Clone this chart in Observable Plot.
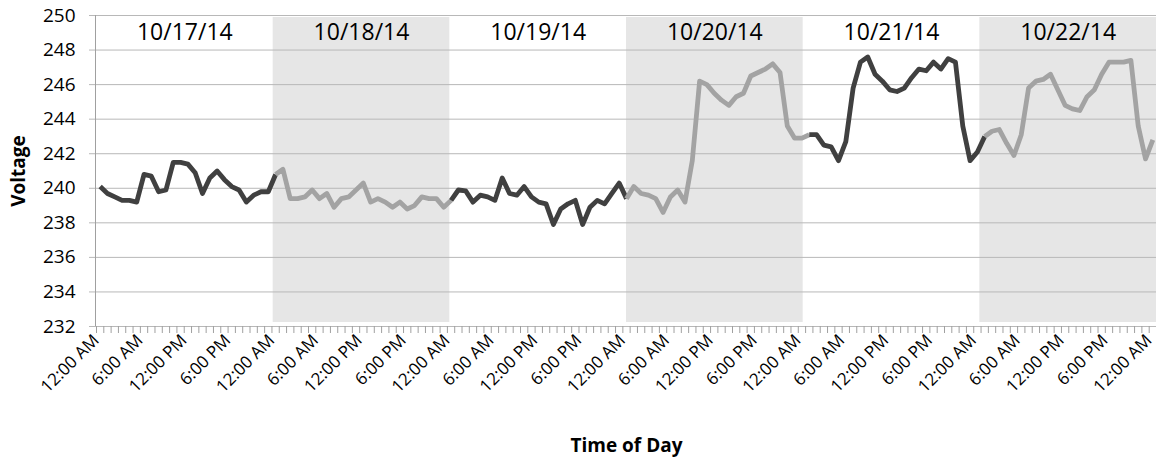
<!DOCTYPE html>
<html><head><meta charset="utf-8">
<script src="https://cdn.jsdelivr.net/npm/d3@7"></script>
<script src="https://cdn.jsdelivr.net/npm/@observablehq/plot@0.6"></script>
<style>body{margin:0;background:#fff;}</style>
</head><body><div id="chart"></div>
<script>
const days = ["10/17/14","10/18/14","10/19/14","10/20/14","10/21/14","10/22/14"];
// hourly readings, 12:00 AM .. 11:00 PM of each day
const day1 = [240.1, 239.7, 239.5, 239.3, 239.3, 239.2, 240.8, 240.7, 239.8, 239.9, 241.5, 241.5, 241.4, 240.9, 239.7, 240.6, 241.0, 240.5, 240.1, 239.9, 239.2, 239.6, 239.8, 239.8];
const day2 = [240.8, 241.1, 239.4, 239.4, 239.5, 239.9, 239.4, 239.7, 238.9, 239.4, 239.5, 239.9, 240.3, 239.2, 239.4, 239.2, 238.9, 239.2, 238.8, 239.0, 239.5, 239.4, 239.4, 238.9];
const day3 = [239.3, 239.9, 239.85, 239.2, 239.6, 239.5, 239.3, 240.6, 239.7, 239.6, 240.1, 239.5, 239.2, 239.1, 237.9, 238.8, 239.1, 239.3, 237.9, 238.9, 239.3, 239.1, 239.7, 240.3];
const day4 = [239.4, 240.1, 239.7, 239.6, 239.4, 238.6, 239.5, 239.9, 239.2, 241.6, 246.2, 246.0, 245.5, 245.1, 244.8, 245.3, 245.5, 246.5, 246.7, 246.9, 247.2, 246.7, 243.6, 242.9];
const day5 = [242.9, 243.1, 243.1, 242.5, 242.4, 241.6, 242.7, 245.8, 247.3, 247.6, 246.6, 246.2, 245.7, 245.6, 245.8, 246.4, 246.9, 246.8, 247.3, 246.9, 247.5, 247.3, 243.6, 241.6];
const day6 = [242.1, 243.0, 243.3, 243.4, 242.6, 241.9, 243.1, 245.8, 246.2, 246.3, 246.6, 245.7, 244.8, 244.6, 244.5, 245.3, 245.7, 246.6, 247.3, 247.3, 247.3, 247.4, 243.6, 241.7];
const lastReading = [242.8]; // 12:00 AM 10/23/14
const yTicks = [232, 234, 236, 238, 240, 242, 244, 246, 248, 250];
const timeLabels = ["12:00 AM", "6:00 AM", "12:00 PM", "6:00 PM"];

const readings = [...day1, ...day2, ...day3, ...day4, ...day5, ...day6, ...lastReading];
const N = readings.length;            // categories on the axis
const nDays = days.length;
const bandOf = i => Math.min(nDays - 1, Math.floor((i + 0.5) * nDays / N)); // shading column a reading falls in
const lineRows = [];
readings.forEach((v, i) => {
  const b = bandOf(i);
  lineRows.push({x: i + 0.5, v, band: b});
  if (i > 0 && bandOf(i - 1) !== b) lineRows.push({x: i + 0.5, v, band: bandOf(i - 1)});
});
const shaded = days.map((name, d) => ({name, d})).filter(o => o.d % 2 === 1);
const hourTicks = d3.range(0, N + 1);
const labelIdx = d3.range(0, N, 6);

const dark = "#404040", light = "#a3a3a3", shade = "#e6e6e6", grid = "#b8b8b8";
const yMin = yTicks[0], yMax = yTicks[yTicks.length - 1];
const colW = N / nDays;

const chart = Plot.plot({
  width: 1156,
  height: 459,
  marginLeft: 96,
  marginRight: 0,
  marginTop: 15,
  marginBottom: 133,
  style: {fontFamily: "'Open Sans', sans-serif", fontSize: "19px", color: "#000", background: "#fff"},
  x: {domain: [0, N]},
  y: {domain: [yMin, yMax]},
  marks: [
    Plot.rectY(shaded, {x1: o => o.d * colW, x2: o => (o.d + 1) * colW, y1: yMin, y2: yMax, fill: shade, insetTop: 2, insetBottom: 4}),
    Plot.gridY(yTicks, {stroke: grid, strokeOpacity: 1}),
    Plot.axisY(yTicks, {tickSize: 7, tickPadding: 14, fontSize: 19, stroke: grid, fill: "#000", label: null}),
    Plot.ruleX([0], {stroke: "#a0a0a0", dx: -1}),
    Plot.axisX(hourTicks, {tickSize: 7, tickFormat: () => "", stroke: "#a0a0a0", label: null}),
    Plot.axisX(labelIdx.map(i => i + 0.5), {tickSize: 0, tickPadding: 11, tickRotate: -45, fontSize: 17, fill: "#000", dx: -4,
      tickFormat: x => timeLabels[Math.round(x - 0.5) / 6 % 4], label: null}),
    Plot.line(lineRows, {x: "x", y: "v", z: "band", stroke: r => r.band % 2 === 0 ? dark : light,
      strokeWidth: 4.8, strokeLinejoin: "round", strokeLinecap: "butt"}),
    Plot.text(days, {x: (n, i) => (i + 0.5) * colW, frameAnchor: "top", lineAnchor: "middle", dy: 17, fontSize: 23, fill: "#000"}),
    Plot.text(["Voltage"], {frameAnchor: "left", textAnchor: "middle", lineAnchor: "middle", dx: -78, rotate: -90, fontSize: 19, fontWeight: "bold", fill: "#000"}),
    Plot.text(["Time of Day"], {frameAnchor: "bottom", lineAnchor: "middle", dy: 119, fontSize: 19, fontWeight: "bold", fill: "#000"})
  ]
});
document.getElementById("chart").appendChild(chart);
</script>
</body></html>
